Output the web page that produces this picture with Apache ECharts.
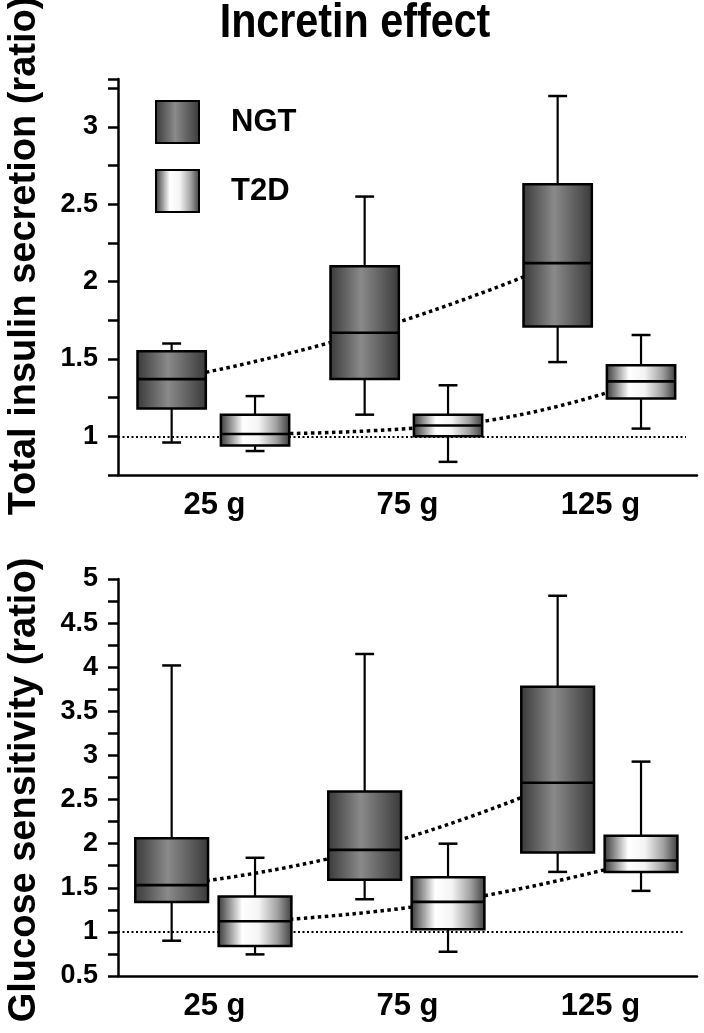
<!DOCTYPE html>
<html><head><meta charset="utf-8">
<script src="https://cdn.jsdelivr.net/npm/echarts/dist/echarts.min.js"></script>
<style>html,body{margin:0;padding:0;background:#fff}#c{width:704px;height:1033px}</style>
</head><body><div id="c"></div>
<script>
// ---------------- data ----------------
const categories = ['25 g', '75 g', '125 g'];
const groupNames = ['NGT', 'T2D'];
// each row: [lower whisker, Q1, median, Q3, upper whisker]
const insulinNGT = [[0.96, 1.18, 1.37, 1.55, 1.60], [1.14, 1.37, 1.67, 2.10, 2.55], [1.48, 1.71, 2.12, 2.63, 3.20]];
const insulinT2D = [[0.905, 0.94, 1.015, 1.14, 1.26], [0.835, 1.00, 1.07, 1.14, 1.33], [1.05, 1.245, 1.355, 1.46, 1.655]];
const glucoseNGT = [[0.90, 1.34, 1.53, 2.06, 4.02], [1.37, 1.59, 1.93, 2.59, 4.15], [1.68, 1.90, 2.69, 3.78, 4.81]];
const glucoseT2D = [[0.745, 0.84, 1.12, 1.40, 1.84], [0.775, 1.03, 1.34, 1.62, 2.00], [1.465, 1.68, 1.81, 2.09, 2.93]];
const insulinTickLabels = [1, 1.5, 2, 2.5, 3];
const glucoseTickLabels = [0.5, 1, 1.5, 2, 2.5, 3, 3.5, 4, 4.5, 5];
const referenceValue = 1;

// ---------------- styles ----------------
const FONT = '"Liberation Sans", Arial, sans-serif';
const OFF_NGT = -0.222, OFF_T2D = 0.21;
const gradNGT = new echarts.graphic.LinearGradient(0, 0, 1, 0, [
  { offset: 0, color: '#383838' }, { offset: 0.45, color: '#8a8a8a' }, { offset: 1, color: '#383838' }]);
const gradT2D = new echarts.graphic.LinearGradient(0, 0, 1, 0, [
  { offset: 0, color: '#333333' }, { offset: 0.33, color: '#ffffff' }, { offset: 0.55, color: '#f4f4f4' },
  { offset: 0.8, color: '#a0a0a0' }, { offset: 1, color: '#3a3a3a' }]);

function boxRenderer(offset, widthUnits, capUnits, fill) {
  return function (params, api) {
    const x = api.value(0) + offset;
    const pLo = api.coord([x, api.value(1)]);
    const pQ1 = api.coord([x, api.value(2)]);
    const pMed = api.coord([x, api.value(3)]);
    const pQ3 = api.coord([x, api.value(4)]);
    const pHi = api.coord([x, api.value(5)]);
    const bw = api.size([widthUnits, 0])[0];
    const cw = api.size([capUnits, 0])[0];
    const cx = pMed[0];
    const ls = { stroke: '#000', lineWidth: 2.2 };
    return {
      type: 'group', children: [
        { type: 'line', shape: { x1: cx, y1: pQ3[1], x2: cx, y2: pHi[1] }, style: ls },
        { type: 'line', shape: { x1: cx, y1: pQ1[1], x2: cx, y2: pLo[1] }, style: ls },
        { type: 'line', shape: { x1: cx - cw / 2, y1: pHi[1], x2: cx + cw / 2, y2: pHi[1] }, style: { stroke: '#000', lineWidth: 2.5 } },
        { type: 'line', shape: { x1: cx - cw / 2, y1: pLo[1], x2: cx + cw / 2, y2: pLo[1] }, style: { stroke: '#000', lineWidth: 2.5 } },
        { type: 'rect', shape: { x: cx - bw / 2, y: pQ3[1], width: bw, height: pQ1[1] - pQ3[1] }, style: { fill: fill, stroke: '#000', lineWidth: 2.5 } },
        { type: 'line', shape: { x1: cx - bw / 2, y1: pMed[1], x2: cx + bw / 2, y2: pMed[1] }, style: { stroke: '#000', lineWidth: 2.6 } }
      ]
    };
  };
}

const rows = arr => arr.map((r, i) => [i].concat(r));
const medians = (arr, off) => arr.map((r, i) => [i + off, r[2]]);
const axisColor = { color: '#000', width: 2.5 };

function xAxes(grid) {
  return [
    { type: 'category', gridIndex: grid, data: categories, boundaryGap: true,
      axisLine: { onZero: false, lineStyle: axisColor },
      axisTick: { alignWithLabel: true, length: 6, lineStyle: axisColor },
      axisLabel: { fontSize: 31, fontWeight: 'bold', color: '#000', margin: 15, fontFamily: FONT },
      splitLine: { show: false } },
    { type: 'value', gridIndex: grid, min: -0.5, max: 2.5, show: false, splitLine: { show: false } }
  ];
}
function yAxis(grid, min, max, labels) {
  return { type: 'value', gridIndex: grid, min: min, max: max, interval: 0.25,
    axisLine: { show: true, onZero: false, lineStyle: axisColor },
    axisTick: { show: true, length: 10, lineStyle: axisColor },
    splitLine: { show: false },
    axisLabel: { fontSize: 27, fontWeight: 'bold', color: '#000', margin: 20, fontFamily: FONT,
      formatter: v => labels.some(t => Math.abs(t - v) < 1e-6) ? String(v) : '' } };
}
function seriesFor(grid, ngt, t2d, bwUnits, refEnd) {
  const xi = grid * 2 + 1;
  return [
    { type: 'line', xAxisIndex: xi, yAxisIndex: grid, data: medians(ngt, OFF_NGT), smooth: 0.5, symbol: 'none', silent: true, z: 1,
      lineStyle: { color: '#000', width: 3.5, type: [3.5, 3.5] },
      markLine: { silent: true, symbol: 'none', z: 1, label: { show: false },
        lineStyle: { color: '#000', width: 2, type: [2, 2.5] },
        data: [[{ coord: [-0.5, referenceValue] }, { coord: [refEnd, referenceValue] }]] } },
    { type: 'line', xAxisIndex: xi, yAxisIndex: grid, data: medians(t2d, OFF_T2D), smooth: 0.5, symbol: 'none', silent: true, z: 1,
      lineStyle: { color: '#000', width: 3.5, type: [3.5, 3.5] } },
    { type: 'custom', name: groupNames[0], xAxisIndex: xi, yAxisIndex: grid, z: 5,
      itemStyle: { color: gradNGT, borderColor: '#000', borderWidth: 2 },
      renderItem: boxRenderer(OFF_NGT, bwUnits, 0.098, gradNGT), encode: { x: 0, y: [1, 2, 3, 4, 5] }, data: rows(ngt) },
    { type: 'custom', name: groupNames[1], xAxisIndex: xi, yAxisIndex: grid, z: 5,
      itemStyle: { color: gradT2D, borderColor: '#000', borderWidth: 2 },
      renderItem: boxRenderer(OFF_T2D, bwUnits, 0.098, gradT2D), encode: { x: 0, y: [1, 2, 3, 4, 5] }, data: rows(t2d) }
  ];
}

const chart = echarts.init(document.getElementById('c'), null, { renderer: 'canvas' });
chart.setOption({
  animation: false,
  backgroundColor: '#fff',
  grid: [
    { left: 118, right: 7, top: 79, height: 396 },
    { left: 118, right: 7, top: 579, height: 397 }
  ],
  legend: {
    orient: 'vertical', left: 155, top: 100, padding: 0, itemWidth: 43, itemHeight: 42, itemGap: 25,
    icon: 'rect', selectedMode: false,
    textStyle: { fontSize: 31, fontWeight: 'bold', color: '#000', fontFamily: FONT, padding: [0, 0, 0, 27] },
    data: [
      { name: groupNames[0], itemStyle: { color: gradNGT, borderColor: '#000', borderWidth: 2 } },
      { name: groupNames[1], itemStyle: { color: gradT2D, borderColor: '#000', borderWidth: 2 } }
    ]
  },
  xAxis: xAxes(0).concat(xAxes(1)),
  yAxis: [yAxis(0, 0.75, 3.31, insulinTickLabels), yAxis(1, 0.5, 5, glucoseTickLabels)],
  series: seriesFor(0, insulinNGT, insulinT2D, 0.354, 2.443).concat(seriesFor(1, glucoseNGT, glucoseT2D, 0.377, 2.43)),
  graphic: [
    { type: 'text', x: 355, y: 24, scaleX: 0.86, style: { text: 'Incretin effect', fontSize: 48, fontWeight: 'bold',
      fontFamily: FONT, fill: '#000', align: 'center', verticalAlign: 'middle' } },
    { type: 'text', x: 25, y: 256, rotation: Math.PI / 2, style: { text: 'Total insulin secretion (ratio)', fontSize: 38,
      fontWeight: 'bold', fontFamily: FONT, fill: '#000', align: 'center', verticalAlign: 'middle' } },
    { type: 'text', x: 25, y: 790, rotation: Math.PI / 2, style: { text: 'Glucose sensitivity (ratio)', fontSize: 38,
      fontWeight: 'bold', fontFamily: FONT, fill: '#000', align: 'center', verticalAlign: 'middle' } }
  ]
});
</script></body></html>
